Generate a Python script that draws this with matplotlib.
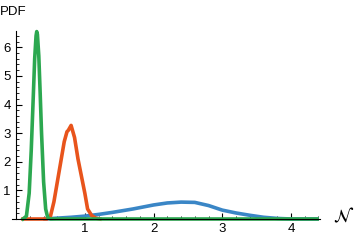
import matplotlib
matplotlib.use("Agg")
import matplotlib.pyplot as plt
from matplotlib.ticker import MultipleLocator

plt.rcParams['font.family'] = ['Liberation Sans', 'DejaVu Sans']

# curves
blue_x = [0.42, 0.6, 0.8, 1.0, 1.2, 1.4, 1.7, 2.0, 2.2, 2.4, 2.6, 2.8, 3.0, 3.2, 3.4, 3.6, 3.8, 4.0, 4.2, 4.38]
blue_y = [0.0, 0.03, 0.06, 0.1, 0.16, 0.23, 0.35, 0.49, 0.56, 0.59, 0.58, 0.47, 0.31, 0.21, 0.13, 0.06, 0.02, 0.0, 0.0, 0.0]

orange_x = [0.10, 0.45, 0.50, 0.55, 0.60, 0.65, 0.70, 0.74, 0.76, 0.80, 0.85, 0.90, 0.95, 1.00, 1.04, 1.10, 1.16, 1.22]
orange_y = [0.0, 0.0, 0.1, 0.6, 1.3, 2.0, 2.7, 3.05, 3.1, 3.27, 2.85, 2.1, 1.5, 0.9, 0.35, 0.12, 0.03, 0.0]

green_x = [0.10, 0.15, 0.19, 0.22, 0.25, 0.27, 0.29, 0.30, 0.31, 0.33, 0.35, 0.37, 0.40, 0.43, 0.46, 0.50, 4.38]
green_y = [0.0, 0.1, 0.9, 2.4, 4.3, 5.6, 6.4, 6.55, 6.45, 5.7, 4.4, 3.0, 1.3, 0.35, 0.05, 0.0, 0.0]

x_ticks = [1, 2, 3, 4]
y_ticks = [1, 2, 3, 4, 5, 6]

fig = plt.figure(figsize=(3.57, 2.44), dpi=100)
ax = fig.add_axes([0.0336, 0.1025, 0.8624, 0.7705])

lw = 2.6
ax.plot(blue_x, blue_y, color='#3a86c6', lw=lw, clip_on=False, solid_joinstyle='round')
ax.plot(orange_x, orange_y, color='#e8541c', lw=lw, clip_on=False, solid_joinstyle='round')
ax.plot(green_x, green_y, color='#2ca850', lw=lw, clip_on=False, solid_joinstyle='round')

ax.set_xlim(-0.06, 4.42)
ax.set_ylim(0, 6.57)

for s in ['top', 'right']:
    ax.spines[s].set_visible(False)
ax.spines['left'].set_position(('data', 0))
ax.spines['bottom'].set_position(('data', 0))
for s in ['left', 'bottom']:
    ax.spines[s].set_linewidth(0.8)

ax.set_xticks(x_ticks)
ax.set_yticks(y_ticks)
ax.xaxis.set_minor_locator(MultipleLocator(0.2))
ax.yaxis.set_minor_locator(MultipleLocator(0.2))
ax.tick_params(which='major', direction='in', length=4, width=0.8, labelsize=9.5, pad=3)
ax.tick_params(which='minor', direction='in', length=2, width=0.6)
ax.tick_params(axis='y', pad=4)

fig.text(0.0, 0.95, 'PDF', fontsize=9.5, va='center', ha='left')
fig.text(0.932, 0.11, r'$\mathcal{N}$', fontsize=13, va='center', ha='left')

fig.savefig('out.png', dpi=100)
